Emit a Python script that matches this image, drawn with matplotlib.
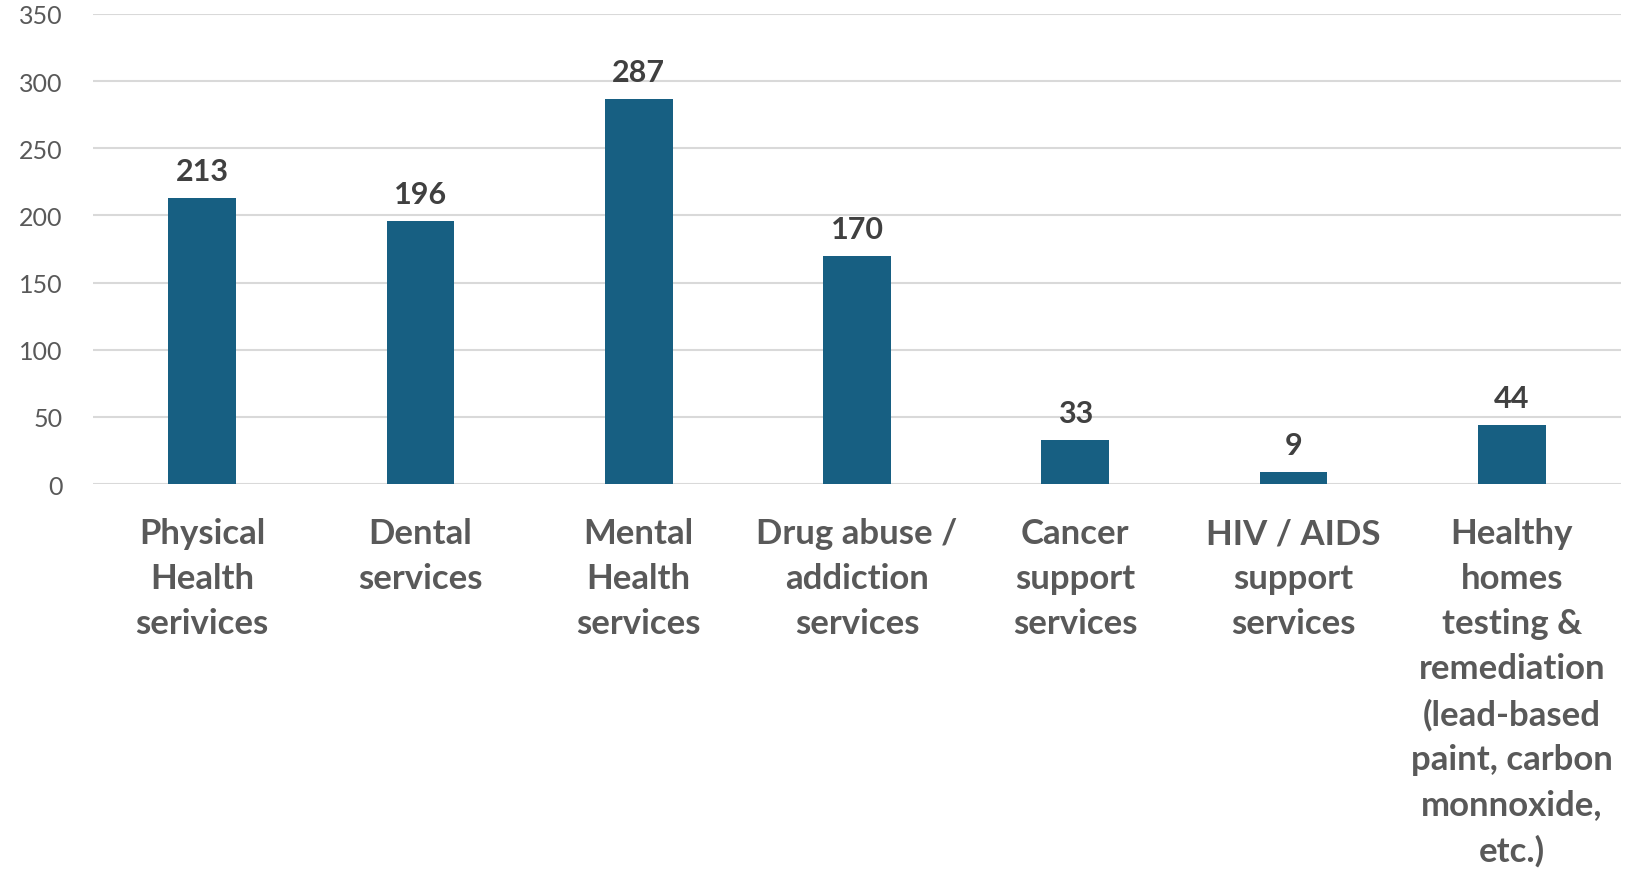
import matplotlib
matplotlib.use("Agg")
import matplotlib.pyplot as plt

# Services respondents said they need
categories = [
    "Physical\nHealth\nserivices",
    "Dental\nservices",
    "Mental\nHealth\nservices",
    "Drug abuse /\naddiction\nservices",
    "Cancer\nsupport\nservices",
    "HIV / AIDS\nsupport\nservices",
    "Healthy\nhomes\ntesting &\nremediation\n(lead-based\npaint, carbon\nmonnoxide,\netc.)",
]
counts = [213, 196, 287, 170, 33, 9, 44]
yticks = [0, 50, 100, 150, 200, 250, 300, 350]

bar_color = "#175F82"
grid_color = "#D9D9D9"

plt.rcParams["font.family"] = ["Lato", "DejaVu Sans"]

fig = plt.figure(figsize=(16.44, 8.70), dpi=100)
ax = fig.add_axes([0.0566, 0.4425, 0.9294, 0.5403])

x = list(range(len(categories)))
bars = ax.bar(x, counts, width=0.31, color=bar_color, zorder=3)

for b, v in zip(bars, counts):
    ax.annotate(str(v), (b.get_x() + b.get_width() / 2, v),
                xytext=(0, 9), textcoords="offset points",
                ha="center", va="bottom", fontsize=22, fontweight="bold",
                color="#404040")

ax.set_xlim(-0.5, len(categories) - 0.5)
ax.set_ylim(0, 350)
ax.set_yticks(yticks)
ax.set_yticklabels([str(t) for t in yticks], fontsize=18, color="#595959")
ax.set_xticks(x)
ax.set_xticklabels(categories, fontsize=25, fontweight="bold", color="#595959",
                   linespacing=1.5, va="top")

ax.tick_params(axis="y", length=0, pad=22)
ax.tick_params(axis="x", length=0, pad=24)
for s in ax.spines.values():
    s.set_visible(False)
ax.grid(axis="y", color=grid_color, linewidth=1.5, zorder=0)
ax.set_axisbelow(True)

fig.savefig("out.png", dpi=100)
